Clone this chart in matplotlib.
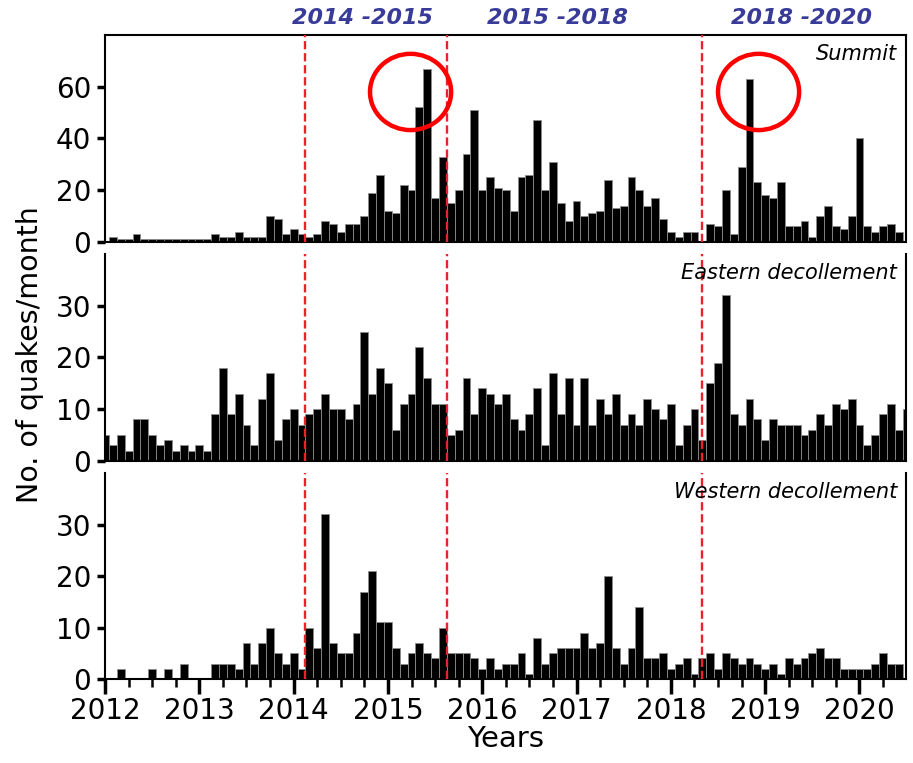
import numpy as np
import matplotlib
matplotlib.use('Agg')
import matplotlib.pyplot as plt
from matplotlib.patches import Ellipse
from matplotlib.ticker import MultipleLocator
import matplotlib.transforms as mtransforms
from matplotlib import font_manager

# monthly counts, Dec 2011 .. Jun 2020 (bars centred on month end)
summit = [0,
	2, 1, 1, 3, 1, 1, 1, 1, 1, 1, 1, 1, 1, 3, 2, 2, 4, 2, 2, 2, 10, 9, 3, 5, 3, 2, 3, 8, 7, 4, 7, 7, 10, 19,
	26, 12, 11, 22, 20, 52, 67, 17, 33, 15, 20, 34, 51, 20, 25, 21, 20, 12, 25, 26, 47, 20, 31, 15, 8, 16, 10, 11, 12, 24, 13, 14, 25, 20,
	14, 17, 9, 4, 2, 4, 4, 0, 7, 6, 20, 3, 29, 63, 23, 18, 17, 23, 6, 6, 8, 2, 10, 14, 6, 5, 10, 40, 6, 4, 6, 7, 4, 0]
eastern = [5,
	3, 5, 2, 8, 8, 5, 3, 4, 2, 3, 2, 3, 2, 9, 18, 9, 13, 7, 3, 12, 17, 4, 8, 10, 7, 9, 10, 13, 10, 10, 8, 11, 25, 13,
	18, 15, 6, 11, 13, 22, 16, 11, 11, 5, 6, 16, 9, 14, 13, 11, 13, 8, 6, 9, 14, 3, 17, 9, 16, 7, 16, 7, 12, 9, 13, 7, 9, 7,
	12, 10, 8, 11, 3, 7, 10, 4, 15, 19, 32, 9, 7, 12, 8, 4, 8, 7, 7, 7, 5, 6, 9, 7, 11, 10, 12, 7, 3, 5, 9, 11, 6, 10]
western = [0,
	0, 2, 0, 0, 0, 2, 0, 2, 0, 3, 0, 0, 0, 3, 3, 3, 2, 7, 3, 7, 10, 5, 3, 5, 2, 10, 6, 32, 7, 5, 5, 9, 17, 21,
	11, 11, 6, 3, 5, 7, 5, 4, 10, 5, 5, 5, 4, 2, 4, 2, 3, 3, 5, 1, 8, 3, 5, 6, 6, 6, 9, 6, 7, 20, 6, 3, 6, 14,
	4, 4, 5, 2, 3, 4, 1, 4, 5, 2, 5, 4, 3, 4, 3, 2, 3, 1, 4, 3, 4, 5, 6, 4, 4, 2, 2, 2, 2, 3, 5, 3, 3, 0]

regions = ['Summit', 'Eastern decollement', 'Western decollement']
ymax = [80, 40, 40]
yticks = [[0, 20, 40, 60], [0, 10, 20, 30], [0, 10, 20, 30]]

phase_breaks = [2014.125, 2015.63, 2018.33]
phase_names = ['2014 -2015', '2015 -2018', '2018 -2020']
phase_x = [2014.73, 2016.80, 2019.39]

# highlighted swarms on the summit panel: (year, count)
swarms = [(2015.24, 58), (2018.93, 58)]

# narrow face for the period headers, if one is around
installed = {f.name for f in font_manager.fontManager.ttflist}
narrow = [f for f in ['Liberation Sans Narrow', 'DejaVu Sans Condensed'] if f in installed]
head_font = dict(family=narrow[0], fontsize=19) if narrow else dict(family='DejaVu Sans', fontsize=16)

t = 2012 + np.arange(len(summit)) / 12.0

fig = plt.figure(figsize=(9.13, 7.63), dpi=100)
left, width = 0.115, 0.877
boxes = [(0.683, 0.271), (0.396, 0.271), (0.110, 0.270)]
axes = [fig.add_axes([left, b, width, h]) for b, h in boxes]

for n, (ax, data) in enumerate(zip(axes, [summit, eastern, western])):
	ax.bar(t, data, width=1/12, color='black', edgecolor='#8c8c8c', linewidth=0.6, align='center')
	for xb in phase_breaks:
		ax.axvline(xb, color='#e8232b', lw=1.7, ls=(0, (3.5, 1.6)), zorder=3)
	ax.set_xlim(2012, 2020.49)
	ax.set_ylim(0, ymax[n])
	ax.set_yticks(yticks[n])
	ax.xaxis.set_major_locator(MultipleLocator(1))
	ax.xaxis.set_minor_locator(MultipleLocator(0.25))
	ax.tick_params(axis='y', labelsize=20, length=6, width=2.5, pad=4)
	for s in ax.spines.values():
		s.set_linewidth(1.5)
	ax.text(0.989, 0.91, regions[n], transform=ax.transAxes, ha='right', va='center',
			fontsize=15, style='italic')
	if n > 0:
		ax.spines['top'].set_visible(False)
	if n < 2:
		ax.tick_params(axis='x', which='both', bottom=False, labelbottom=False)
	else:
		ax.tick_params(axis='x', which='major', labelsize=20, length=11, width=2.5, pad=2)
		ax.tick_params(axis='x', which='minor', length=6, width=1.8)
		ax.set_xticklabels([str(int(v)) for v in ax.get_xticks()])
		ax.set_xlabel('Years', fontsize=21, labelpad=0)

ax1 = axes[0]
for (xc, yc) in swarms:
	ax1.add_patch(Ellipse((xc, yc), 0.86, 29.5, fill=False, edgecolor='red', lw=3.2, zorder=4))

trans = mtransforms.blended_transform_factory(ax1.transData, ax1.transAxes)
for xp, name in zip(phase_x, phase_names):
	ax1.text(xp, 1.085, name, transform=trans, ha='center', va='center',
			 color='#383c98', fontweight='bold', style='italic', **head_font)

fig.text(0.033, 0.535, 'No. of quakes/month', rotation=90, ha='center', va='center', fontsize=20.5)

fig.savefig('out.png', dpi=100)
